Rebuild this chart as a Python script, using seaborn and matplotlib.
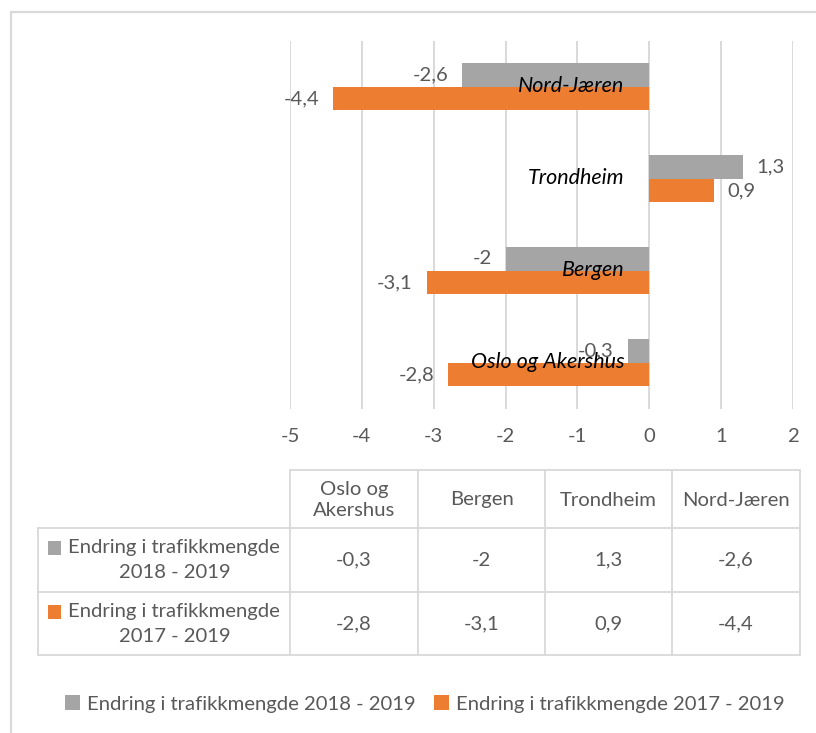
import matplotlib
matplotlib.use("Agg")
import matplotlib.pyplot as plt
import seaborn as sns
import pandas as pd
from matplotlib.transforms import offset_copy
from matplotlib.patches import Rectangle
from matplotlib.lines import Line2D

# ---------------- data ----------------
categories = ["Oslo og Akershus", "Bergen", "Trondheim", "Nord-Jæren"]
header_labels = ["Oslo og\nAkershus", "Bergen", "Trondheim", "Nord-Jæren"]
series_names = ["Endring i trafikkmengde 2018 - 2019",
                "Endring i trafikkmengde 2017 - 2019"]
row_line1 = ["Endring i trafikkmengde", "Endring i trafikkmengde"]
row_line2 = ["2018 - 2019", "2017 - 2019"]
change_2018_2019 = [-0.3, -2.0, 1.3, -2.6]
change_2017_2019 = [-2.8, -3.1, 0.9, -4.4]
x_ticks = [-5, -4, -3, -2, -1, 0, 1, 2]
colors = ["#A5A5A5", "#ED7D31"]

TXT = "#595959"
GRID = "#D9D9D9"
FONT = "Lato"
FS = 14.6


def fmt(v):
    return f"{v:g}".replace(".", ",")


sns.set_theme(style="white")
plt.rcParams["font.family"] = [FONT, "DejaVu Sans"]

W, H = 816, 733
fig = plt.figure(figsize=(W / 100, H / 100), dpi=100)
fig.patch.set_facecolor("white")


def fx(x):
    return x / W


def fy(y):
    return 1 - y / H


# ---------------- bar chart ----------------
ax_l, ax_r, ax_t, ax_b = 290, 793, 40.5, 408.5
ax = fig.add_axes([fx(ax_l), fy(ax_b), fx(ax_r - ax_l), (ax_b - ax_t) / H])

order_top_down = categories[::-1]
rows = []
for name, vals in zip(series_names, [change_2018_2019, change_2017_2019]):
    for c, v in zip(categories, vals):
        rows.append({"cat": c, "val": v, "series": name})
df = pd.DataFrame(rows)

sns.barplot(data=df, y="cat", x="val", hue="series", order=order_top_down,
            hue_order=series_names, palette=colors, width=0.52, orient="h",
            saturation=1, legend=False, ax=ax, edgecolor="none", linewidth=0)

ax.set_xlim(-5, 2)
ax.set_ylim(3.5, -0.5)
ax.set_xticks(x_ticks)
ax.set_xticklabels([fmt(t) for t in x_ticks])
ax.set_yticks([])
ax.set_xlabel("")
ax.set_ylabel("")
for s in ax.spines.values():
    s.set_visible(False)
ax.grid(axis="x", color=GRID, linewidth=1.4)
ax.set_axisbelow(True)
ax.tick_params(axis="x", length=0, pad=14, labelsize=FS, labelcolor=TXT)

for cont in ax.containers:
    labels = [fmt(round(b.get_width(), 1)) for b in cont]
    ax.bar_label(cont, labels=labels, padding=10, fontsize=FS, color=TXT)

lab_tr = offset_copy(ax.transData, fig=fig, x=-25, y=0, units="dots")
for i, c in enumerate(order_top_down):
    ax.text(0, i, c, transform=lab_tr, ha="right", va="center",
            fontsize=15.5, fontstyle="italic", color="black")

# ---------------- data table ----------------
col_x = [290, 418, 545, 672, 800]
row_left = 38
y_top, y_h, y_r1, y_bot = 470, 528, 592, 655
lc = GRID
lw = 1.3


def hline(x0, x1, y):
    fig.add_artist(Line2D([fx(x0), fx(x1)], [fy(y), fy(y)], color=lc, lw=lw))


def vline(x, y0, y1):
    fig.add_artist(Line2D([fx(x), fx(x)], [fy(y0), fy(y1)], color=lc, lw=lw))


hline(col_x[0], col_x[-1], y_top)
for y in (y_h, y_r1, y_bot):
    hline(row_left, col_x[-1], y)
for x in col_x:
    vline(x, y_top, y_bot)
vline(row_left, y_h, y_bot)

for j, lab in enumerate(header_labels):
    cx = (col_x[j] + col_x[j + 1]) / 2
    fig.text(fx(cx), fy((y_top + y_h) / 2 + 1), lab, ha="center", va="center",
             fontsize=FS, color=TXT, linespacing=1.3)

row_bounds = [(y_h, y_r1), (y_r1, y_bot)]
for r, (l1, l2, vals, col) in enumerate(zip(row_line1, row_line2,
                                            [change_2018_2019, change_2017_2019],
                                            colors)):
    y0, y1 = row_bounds[r]
    cy = (y0 + y1) / 2
    fig.text(fx(174), fy(cy - 12), l1, ha="center", va="center", fontsize=FS,
             color=TXT)
    fig.text(fx(175), fy(cy + 12.5), l2, ha="center", va="center", fontsize=FS,
             color=TXT)
    fig.add_artist(Rectangle((fx(48), fy(cy - 12 + 7)), fx(13), 14 / H,
                             facecolor=col, edgecolor="none"))
    for j, v in enumerate(vals):
        cx = (col_x[j] + col_x[j + 1]) / 2
        fig.text(fx(cx), fy(cy), fmt(v), ha="center", va="center",
                 fontsize=FS, color=TXT)

# ---------------- legend ----------------
handles = [Rectangle((0, 0), 1, 1, facecolor=c, edgecolor="none") for c in colors]
fig.legend(handles, series_names, loc="center", bbox_to_anchor=(fx(425), fy(704)),
           ncol=2, frameon=False, fontsize=FS, labelcolor=TXT,
           handlelength=0.75, handleheight=0.75, handletextpad=0.35,
           columnspacing=0.9)

# ---------------- outer border ----------------
fig.add_artist(Line2D([fx(11), fx(11)], [fy(12), 0], color=GRID, lw=1.6))
fig.add_artist(Line2D([fx(11), 1], [fy(12), fy(12)], color=GRID, lw=1.6))

fig.savefig("out.png", dpi=100)
